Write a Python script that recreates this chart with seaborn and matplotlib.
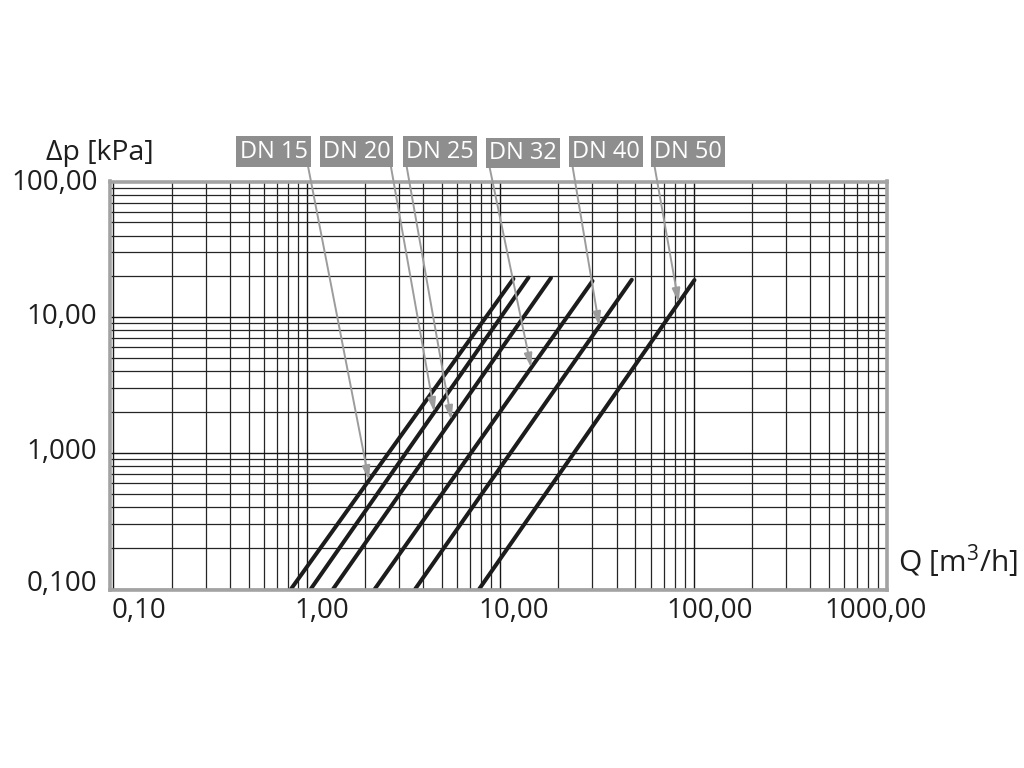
import numpy as np
import pandas as pd
import seaborn as sns
import matplotlib.pyplot as plt
import matplotlib.transforms as mtransforms

# pressure-drop lines for each valve size: two end points per line (log-log straight)
dn_names = ["DN 15", "DN 20", "DN 25", "DN 32", "DN 40", "DN 50"]
q_low = [0.83, 1.05, 1.37, 2.25, 3.64, 7.8]        # m3/h at the bottom end
q_high = [11.7, 14.0, 18.3, 30.0, 47.9, 101.0]     # m3/h at the top end
dp_low = [0.1, 0.1, 0.1, 0.1, 0.1, 0.1]            # kPa
dp_high = [19.2, 19.6, 19.5, 18.5, 18.9, 18.8]     # kPa

# where the label arrows touch each line (kPa)
tip_dp = [0.63, 2.0, 1.75, 4.25, 8.6, 12.8]

x_ticks = [0.1, 1, 10, 100, 1000]
x_tick_labels = ["0,10", "1,00", "10,00", "100,00", "1000,00"]
y_ticks = [0.1, 1, 10, 100]
y_tick_labels = ["0,100", "1,000", "10,00", "100,00"]

rows = []
for name, q0, q1, p0, p1 in zip(dn_names, q_low, q_high, dp_low, dp_high):
    rows.append({"DN": name, "Q": q0, "dp": p0})
    rows.append({"DN": name, "Q": q1, "dp": p1})
df = pd.DataFrame(rows)

sns.set_style("white")
plt.rcParams["font.family"] = ["Open Sans", "DejaVu Sans"]
plt.rcParams["mathtext.default"] = "regular"

fig = plt.figure(figsize=(10.24, 7.68), dpi=100)
ax = fig.add_axes([110 / 1024, 178 / 768, 777 / 1024, 408.5 / 768])

ax.set_xscale("log")
ax.set_yscale("log")
ax.set_xlim(0.096, 1000)
ax.set_ylim(0.098, 100)

# grid
ax.grid(True, which="major", color="#151515", lw=1.0)
ax.grid(True, which="minor", color="#252525", lw=0.9)
ax.set_axisbelow(True)

sns.lineplot(data=df, x="Q", y="dp", units="DN", estimator=None,
             color="#1c1c1c", lw=2.9, ax=ax, legend=False)

for s in ax.spines.values():
    s.set_color("#a3a3a3")
    s.set_linewidth(2.6)

ax.set_xticks(x_ticks)
ax.set_xticklabels(x_tick_labels)
ax.set_yticks(y_ticks)
ax.set_yticklabels(y_tick_labels)
ax.tick_params(axis="both", which="both", length=0, labelsize=20, labelcolor="#1e1e1e")
ax.tick_params(axis="x", pad=5)
ax.tick_params(axis="y", pad=9)
ax.set_xlabel("")
ax.set_ylabel("")

x_shift = [26, 15, 14, 16, -11]
for lab, dx in zip(ax.get_xticklabels(), x_shift):
    lab.set_transform(lab.get_transform() +
                      mtransforms.ScaledTranslation(dx / 100, 0, fig.dpi_scale_trans))
y_shift = [8, 5, 4, 2]
for lab, dy in zip(ax.get_yticklabels(), y_shift):
    lab.set_transform(lab.get_transform() +
                      mtransforms.ScaledTranslation(0, dy / 100, fig.dpi_scale_trans))

# axis titles
fig.text(154 / 1024, 1 - 153 / 768, "Δp [kPa]", ha="right", va="center",
         fontsize=20.5, color="#1e1e1e")
fig.text(898 / 1024, 1 - 561 / 768, r"Q [m$^{3}$/h]", ha="left", va="center",
         fontsize=21.5, color="#1e1e1e")

# gray label boxes with leader arrows
box_x = [273.5, 356.5, 440, 523, 606, 688]
box_y = [151.5, 151.5, 151.5, 153, 151.5, 151.5]
rel = [(1, 0), (1, 0), (0, 0), (0, 0), (0, 0), (0, 0)]
for i, name in enumerate(dn_names):
    lq = np.log10([q_low[i], q_high[i]])
    lp = np.log10([dp_low[i], dp_high[i]])
    tq = 10 ** np.interp(np.log10(tip_dp[i]), lp, lq)
    ax.annotate(name, xy=(tq, tip_dp[i]), xycoords="data",
                xytext=(box_x[i], 768 - box_y[i]), textcoords="figure pixels",
                ha="center", va="center", fontsize=17, color="white",
                bbox=dict(boxstyle="square,pad=0.13", fc="#8e8e8e", ec="none"),
                arrowprops=dict(arrowstyle="-|>,head_length=0.7,head_width=0.2",
                                color="#9c9c9c", lw=1.4, relpos=rel[i],
                                shrinkA=0, shrinkB=0, mutation_scale=12),
                annotation_clip=False)

fig.savefig("out.png", dpi=100)
